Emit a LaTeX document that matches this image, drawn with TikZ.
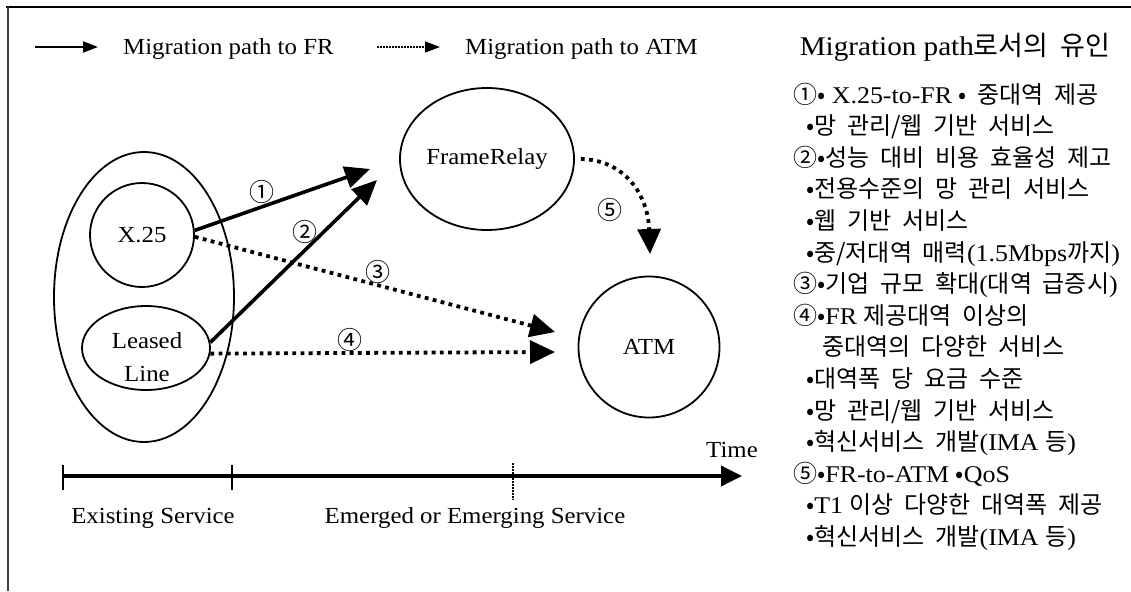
\documentclass[tikz,border=0pt]{standalone}
\usepackage{fontspec}
\setmainfont{Liberation Serif}[FakeStretch=1.08]
\newfontfamily\kr{Noto Sans CJK KR}[WordSpace=2]
\newcommand{\K}[1]{{\kr #1}}
\usetikzlibrary{arrows.meta,shapes.geometric}
\tikzset{
  shp/.style={draw, line width=1.8pt, inner sep=0pt},
  lbl/.style={font=\fontsize{23}{33}\selectfont, align=center, inner sep=0pt},
  num/.style={font=\kr\fontsize{25}{28}\selectfont, inner sep=0pt},
  col/.style={font=\fontsize{24}{30}\selectfont, anchor=base west, inner sep=0pt},
  txt/.style={font=\fontsize{23}{30}\selectfont, anchor=base west, inner sep=0pt},
  solidarr/.style={line width=3.6pt, -{Triangle[length=25pt,width=22pt]}},
  dotarr/.style={line width=3.8pt, dash pattern=on 3.8pt off 4.4pt, -{Triangle[length=25pt,width=23pt]}},
  legsolid/.style={line width=2.2pt, -{Triangle[length=15pt,width=11pt]}},
  legdot/.style={line width=1.6pt, dash pattern=on 1.6pt off 1.4pt, -{Triangle[length=15pt,width=11pt]}},
  tline/.style={line width=3.6pt, -{Triangle[length=21pt,width=20pt]}},
}
\begin{document}
\begin{tikzpicture}[x=1pt,y=-1pt]
\useasboundingbox (0,0) rectangle (1131,591);
% frame
\draw[line width=2pt] (6,7) -- (1131,7);
\draw[line width=2pt, black!75] (8,7) -- (8,591);

% legend
\coordinate (la1) at (35,47);
\coordinate (la2) at (98,47);
\draw[legsolid] (la1) -- (la2);
\node[txt] (lat) at (123,55) {Migration path to FR};
\coordinate (lb1) at (377,47);
\coordinate (lb2) at (440,47);
\draw[legdot] (lb1) -- (lb2);
\node[txt] (lbt) at (465,55) {Migration path to ATM};

% shapes
\node[shp, ellipse, minimum width=180pt, minimum height=290pt] (grp) at (144,297) {};
\node[shp, circle, minimum size=104pt, lbl] (x25) at (142,235) {X.25};
\node[shp, ellipse, minimum width=128pt, minimum height=84pt] (ll) at (146,348) {};
\node[lbl] (lltext) at (147,357) {Leased\\Line};
\node[shp, ellipse, minimum width=174pt, minimum height=142pt, lbl] (fr) at (487,159) {FrameRelay};
\node[shp, circle, minimum size=141pt, lbl] (atm) at (649,347) {ATM};

% arrow tips
\coordinate (t1) at (370,169);
\coordinate (t2) at (377,180);
\coordinate (t3) at (555,332);
\coordinate (t4) at (555,352);
\coordinate (t5) at (650,254);

\draw[solidarr] (x25.5) -- (t1);
\draw[solidarr] (ll.5) -- (t2);
\draw[dotarr] (x25.-2) -- (t3);
\draw[dotarr] (ll.-5) -- (t4);
\draw[dotarr] ([xshift=6pt]fr.east) .. controls (625,160) and (648,195) .. (t5);

% circled labels
\node[num] (n1) at (262,192) {①};
\node[num] (n2) at (305,232) {②};
\node[num] (n3) at (378,272) {③};
\node[num] (n4) at (350,340) {④};
\node[num] (n5) at (610,210) {⑤};

% timeline
\coordinate (ts) at (63,476);
\coordinate (te) at (742,476);
\draw[tline] (ts) -- (te);
\draw[line width=2.4pt] (63,465) -- (63,490);
\draw[line width=2.4pt] (232,465) -- (232,490);
\draw[line width=1.2pt, dash pattern=on 1.5pt off 1.5pt] (513,463) -- (513,500);
\node[txt, anchor=base] (time) at (732,457) {Time};
\node[txt, anchor=base] (exs) at (153,523) {Existing Service};
\node[txt, anchor=base] (ems) at (475,523) {Emerged or Emerging Service};

% right column
\node[txt, font=\fontsize{27}{30}\selectfont, anchor=base] (title) at (955,56) {Migration path\K{로서의 유인}};
\node[col] (r0) at (793,103) {\K{①•} X.25-to-FR \K{• 중대역 제공}};
\node[col] (r1) at (806,134.6) {\K{•망 관리/웹 기반 서비스}};
\node[col] (r2) at (793,166.2) {\K{②•성능 대비 비용 효율성 제고}};
\node[col] (r3) at (806,197.8) {\K{•전용수준의 망 관리 서비스}};
\node[col] (r4) at (806,229.4) {\K{•웹 기반 서비스}};
\node[col] (r5) at (806,261) {\K{•중/저대역 매력}(1.5Mbps\K{까지})};
\node[col] (r6) at (793,292.6) {\K{③•기업 규모 확대}(\K{대역 급증시})};
\node[col] (r7) at (793,324.2) {\K{④•}FR \K{제공대역 이상의}};
\node[col] (r8) at (822,355.8) {\K{중대역의 다양한 서비스}};
\node[col] (r9) at (806,387.4) {\K{•대역폭 당 요금 수준}};
\node[col] (r10) at (806,419) {\K{•망 관리/웹 기반 서비스}};
\node[col] (r11) at (806,450.6) {\K{•혁신서비스 개발}(IMA \K{등})};
\node[col] (r12) at (793,482.2) {\K{⑤•}FR-to-ATM \K{•}QoS};
\node[col] (r13) at (806,513.8) {\K{•}T1 \K{이상 다양한 대역폭 제공}};
\node[col] (r14) at (806,545.4) {\K{•혁신서비스 개발}(IMA \K{등})};
\end{tikzpicture}
\end{document}
